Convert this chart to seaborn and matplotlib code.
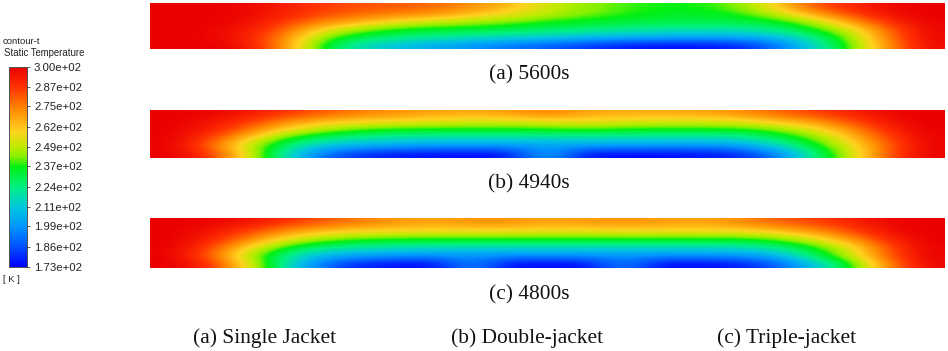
"""Temperature contours for the three jacket layouts, with a shared colour bar."""
import matplotlib.pyplot as plt
import numpy as np
import seaborn as sns
from matplotlib.colors import LinearSegmentedColormap

W, H = 948, 351

# Temperature (K), rows run top wall to bottom wall
SINGLE_JACKET = [
    [300, 300, 298, 293, 286, 283, 281, 279, 272, 264, 252, 245, 240, 237, 237, 243, 258, 282, 290, 297, 300],
    [300, 300, 298, 292, 284, 278, 274, 270, 262, 256, 248, 243, 238, 235, 234, 236, 248, 265, 284, 295, 300],
    [300, 300, 297, 287, 274, 265, 255, 250, 246, 242, 237, 234, 232, 231, 230, 231, 233, 246, 268, 288, 299],
    [300, 299, 295, 281, 258, 244, 236, 233, 232, 230, 227, 225, 222, 220, 219, 219, 224, 235, 252, 279, 298],
    [300, 299, 293, 275, 245, 231, 225, 222, 218, 215, 212, 208, 205, 203, 202, 203, 207, 222, 244, 276, 298],
    [300, 300, 296, 274, 237, 217, 209, 204, 198, 192, 188, 182, 177, 175, 175, 178, 190, 213, 240, 272, 297],
]
DOUBLE_JACKET = [
    [300, 299, 295, 288, 282, 276, 272, 269, 267, 270, 276, 268, 267, 267, 268, 272, 279, 285, 291, 298, 300],
    [300, 296, 288, 275, 264, 260, 258, 256, 254, 254, 256, 258, 255, 254, 254, 255, 263, 270, 283, 295, 300],
    [300, 294, 280, 260, 248, 240, 237, 236, 236, 236, 237, 239, 237, 236, 236, 237, 241, 255, 271, 290, 300],
    [300, 288, 265, 240, 228, 222, 219, 218, 218, 218, 218, 218, 218, 218, 218, 219, 229, 241, 262, 285, 299],
    [300, 282, 252, 228, 211, 205, 202, 200, 199, 199, 200, 201, 200, 199, 198, 200, 213, 233, 254, 280, 299],
    [300, 290, 258, 220, 192, 180, 176, 175, 174, 176, 205, 175, 174, 174, 176, 178, 192, 222, 250, 282, 299],
]
TRIPLE_JACKET = [
    [300, 299, 296, 289, 282, 276, 271, 268, 272, 272, 268, 270, 272, 270, 268, 272, 280, 285, 291, 298, 300],
    [300, 296, 287, 274, 265, 261, 260, 259, 259, 259, 258, 258, 259, 259, 259, 260, 263, 272, 284, 296, 300],
    [300, 293, 277, 258, 246, 240, 238, 237, 237, 237, 237, 237, 237, 237, 237, 237, 241, 254, 271, 291, 300],
    [300, 288, 262, 238, 226, 221, 219, 218, 217, 217, 217, 217, 217, 217, 217, 218, 223, 235, 254, 283, 299],
    [300, 283, 250, 225, 207, 202, 199, 198, 198, 197, 198, 198, 198, 198, 198, 199, 205, 228, 250, 282, 299],
    [300, 292, 259, 222, 192, 178, 175, 174, 198, 174, 174, 174, 196, 174, 174, 176, 186, 208, 235, 274, 298],
]
PANELS = [SINGLE_JACKET, DOUBLE_JACKET, TRIPLE_JACKET]
PANEL_TIMES = ["(a) 5600s", "(b) 4940s", "(c) 4800s"]
LAYOUT_NAMES = ["(a) Single Jacket", "(b) Double-jacket", "(c) Triple-jacket"]
CBAR_TICKS = [173, 186, 199, 211, 224, 237, 249, 262, 275, 287, 300]
CBAR_LABELS = ["1.73e+02", "1.86e+02", "1.99e+02", "2.11e+02", "2.24e+02", "2.37e+02",
               "2.49e+02", "2.62e+02", "2.75e+02", "2.87e+02", "3.00e+02"]

fluent = LinearSegmentedColormap.from_list("fluent", [
    (0.00, "#0000ff"), (0.10, "#0050ff"), (0.20, "#0096ff"), (0.30, "#00c8dc"),
    (0.40, "#00f082"), (0.50, "#00f014"), (0.55, "#82f000"), (0.60, "#beeb00"),
    (0.68, "#ffd21e"), (0.80, "#ff8200"), (0.90, "#ff3200"), (1.00, "#eb0000"),
])


def px_axes(fig, left, top, right, bottom):
    return fig.add_axes([left / W, 1 - bottom / H, (right - left) / W, (bottom - top) / H])


def px_text(fig, x, y, s, **kw):
    fig.text(x / W, 1 - y / H, s, va="center", **kw)


def main():
    sns.set_theme(style="white")
    plt.rcParams["font.family"] = ["Liberation Sans", "DejaVu Sans"]
    fig = plt.figure(figsize=(W / 100, H / 100), dpi=100)
    cbar_ax = px_axes(fig, 9, 67, 27, 267)

    extents = [(3, 49), (110, 158), (218, 268)]
    for i, (grid, (top, bottom)) in enumerate(zip(PANELS, extents)):
        ax = px_axes(fig, 150, top, 945, bottom)
        values = np.array(grid, dtype=float)
        sns.heatmap(values, ax=ax, cmap=fluent, vmin=173, vmax=300,
                    xticklabels=False, yticklabels=False,
                    cbar=i == 0, cbar_ax=cbar_ax if i == 0 else None)
        # smooth the coarse grid so it reads as a contour
        ax.collections[0].set_visible(False)
        ax.imshow(values, cmap=fluent, vmin=173, vmax=300, aspect="auto",
                  interpolation="bicubic",
                  extent=(0, values.shape[1], values.shape[0], 0))

    cbar_ax.set_yticks(CBAR_TICKS, CBAR_LABELS, fontsize=8.2, color="#222222")
    cbar_ax.tick_params(axis="y", length=2, width=0.6, pad=3, right=True, color="#444444")
    for spine in cbar_ax.spines.values():
        spine.set_visible(True)
        spine.set_linewidth(0.7)
        spine.set_color("#555555")

    px_text(fig, 3, 42, "contour-t", fontsize=6.8, color="#222222")
    px_text(fig, 4, 53, "Static Temperature", fontsize=6.9, color="#222222")
    px_text(fig, 3, 279, "[ K ]", fontsize=6.8, color="#222222")

    serif = dict(family=["Liberation Serif", "DejaVu Serif"], fontsize=15.4, ha="center", color="#111111")
    for label, y in zip(PANEL_TIMES, [75, 184, 295]):
        px_text(fig, 529, y, label, **serif)
    for label, x in zip(LAYOUT_NAMES, [265, 527, 787]):
        px_text(fig, x, 338, label, **serif)

    fig.savefig("out.png", dpi=100)
    plt.close(fig)


if __name__ == "__main__":
    main()
